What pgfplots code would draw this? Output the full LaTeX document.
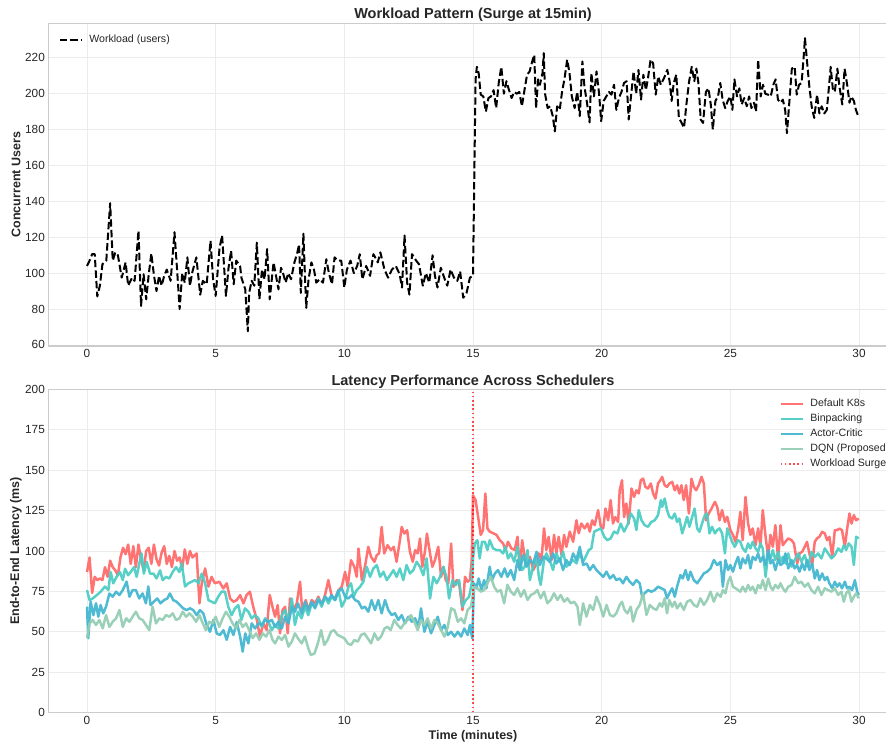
\documentclass[border=0pt]{standalone}
\usepackage{pgfplots}
\usepackage{pgfplotstable}
\pgfplotsset{compat=1.18}
\usepackage{fontspec}
\setmainfont{Liberation Sans}
\definecolor{ck}{HTML}{FF6B6B}
\definecolor{cb}{HTML}{4ECDC4}
\definecolor{ca}{HTML}{45B7D1}
\definecolor{cd}{HTML}{96CEB4}
\definecolor{txt}{HTML}{262626}

\pgfplotstableread[row sep=\\]{t y\\
0.00 104\\ 0.10 107\\ 0.20 110.6\\ 0.30 110.6\\ 0.40 87\\ 0.50 93\\ 0.60 105\\ 0.75 107\\ 0.90 139\\ 1.00 107\\
1.10 111.6\\ 1.20 110\\ 1.35 97.5\\ 1.50 106\\ 1.60 93\\ 1.75 97.5\\ 1.85 95.7\\ 2.00 123.7\\ 2.10 81.7\\ 2.20 99.4\\
2.30 85.4\\ 2.40 99.4\\ 2.50 111\\ 2.60 99\\ 2.70 90\\ 2.80 98.5\\ 2.90 93\\ 3.00 98.5\\ 3.10 102\\ 3.25 95.7\\
3.40 122.8\\ 3.50 102\\ 3.60 80\\ 3.70 100\\ 3.80 94.7\\ 3.90 108.8\\ 4.00 93\\ 4.10 101\\ 4.25 108.8\\ 4.40 88\\
4.50 95.7\\ 4.65 93.8\\ 4.80 118\\ 4.90 96.6\\ 5.00 87.3\\ 5.15 114\\ 5.25 121\\ 5.40 87.3\\ 5.50 103\\ 5.60 112.5\\
5.70 93.8\\ 5.80 107\\ 5.95 104\\ 6.00 97.5\\ 6.15 91\\ 6.25 67.6\\ 6.30 89\\ 6.40 95.7\\ 6.50 93\\ 6.60 117\\
6.70 85.4\\ 6.80 102\\ 6.90 96.6\\ 7.00 113.4\\ 7.10 85.4\\ 7.25 106\\ 7.44 91\\ 7.54 103\\ 7.63 99.4\\ 7.72 94.7\\
7.82 100\\ 7.93 96.6\\ 8.06 106\\ 8.16 110.6\\ 8.24 116\\ 8.31 89\\ 8.41 122\\ 8.46 102\\ 8.52 80.7\\ 8.61 96.6\\
8.72 106\\ 8.82 102\\ 8.91 94.7\\ 9.04 96.6\\ 9.17 94.7\\ 9.30 107.8\\ 9.40 100\\ 9.52 93.8\\ 9.62 108.8\\ 9.75 107\\
9.88 107\\ 10.00 92\\ 10.10 102\\ 10.24 107\\ 10.37 100\\ 10.50 104\\ 10.60 110.6\\ 10.70 96.6\\ 10.85 104\\ 11.00 98.5\\
11.13 110.6\\ 11.30 106\\ 11.40 111.6\\ 11.56 102\\ 11.70 97.5\\ 11.85 102\\ 12.00 104\\ 12.15 99.4\\ 12.24 92\\ 12.34 121\\
12.44 94.7\\ 12.53 88\\ 12.63 110.6\\ 12.79 107\\ 12.90 105\\ 13.05 93\\ 13.17 100\\ 13.30 94.7\\ 13.43 110\\ 13.52 98.5\\
13.62 92\\ 13.75 103\\ 13.88 97.5\\ 14.00 93\\ 14.13 102\\ 14.26 97.5\\ 14.39 95.7\\ 14.50 101\\ 14.62 86.3\\ 14.75 89\\
14.88 97.5\\ 15.00 98.5\\ 15.10 208\\ 15.15 215\\ 15.22 211.5\\ 15.30 199.5\\ 15.40 198.5\\ 15.50 190\\ 15.60 197.6\\ 15.70 198.5\\
15.80 202\\ 15.90 192\\ 16.00 206\\ 16.10 215\\ 16.20 200\\ 16.30 207\\ 16.40 202\\ 16.50 197.6\\ 16.60 201\\ 16.70 200\\
16.80 201\\ 16.90 193\\ 17.00 202\\ 17.10 210.6\\ 17.20 212.4\\ 17.30 218\\ 17.38 221.7\\ 17.45 192\\ 17.53 208\\ 17.60 205\\
17.70 211.5\\ 17.75 222.6\\ 17.80 200\\ 17.90 192\\ 18.00 193\\ 18.10 187.5\\ 18.18 179\\ 18.27 193\\ 18.37 191\\ 18.46 201\\
18.56 208.7\\ 18.66 219\\ 18.75 211.5\\ 18.84 198.5\\ 18.95 192\\ 19.05 201\\ 19.15 187.5\\ 19.25 218\\ 19.33 204\\ 19.43 195\\
19.53 184\\ 19.60 211.5\\ 19.70 198.5\\ 19.80 212.4\\ 19.90 200\\ 19.98 184.7\\ 20.08 196\\ 20.18 198.5\\ 20.28 201\\ 20.38 199.5\\
20.48 205\\ 20.57 191\\ 20.67 197.6\\ 20.77 201\\ 20.87 206\\ 20.97 207\\ 21.05 185.6\\ 21.15 200\\ 21.24 212.4\\ 21.34 200\\
21.43 213.3\\ 21.53 196.7\\ 21.62 210.6\\ 21.72 202\\ 21.80 208.7\\ 21.90 219\\ 22.00 217\\ 22.10 199.5\\ 22.20 209.6\\ 22.30 205\\
22.45 209.6\\ 22.55 213.3\\ 22.64 207\\ 22.72 196\\ 22.80 206\\ 22.90 210.6\\ 23.00 186.5\\ 23.10 184\\ 23.20 181\\ 23.30 195\\
23.40 207\\ 23.50 215\\ 23.60 207\\ 23.68 214\\ 23.76 206\\ 23.85 185.6\\ 23.94 183.7\\ 24.05 201\\ 24.15 203\\ 24.24 194\\
24.32 180\\ 24.42 196\\ 24.52 198.5\\ 24.61 206\\ 24.70 196.7\\ 24.80 192\\ 24.90 196\\ 25.00 198.5\\ 25.08 191\\ 25.16 208\\
25.26 198.5\\ 25.35 203\\ 25.44 194\\ 25.54 197.6\\ 25.64 193\\ 25.73 198.5\\ 25.82 192\\ 25.92 195\\ 26.00 190\\ 26.08 219\\
26.18 198.5\\ 26.27 205\\ 26.36 200\\ 26.46 199.5\\ 26.57 198.5\\ 26.67 205\\ 26.76 208\\ 26.85 196.7\\ 26.95 195\\ 27.04 196.7\\
27.13 191\\ 27.20 178\\ 27.30 196.7\\ 27.39 214\\ 27.50 215\\ 27.58 199.5\\ 27.67 205\\ 27.77 206\\ 27.85 220.7\\ 27.90 231\\
27.98 218\\ 28.07 204\\ 28.16 193\\ 28.26 186.5\\ 28.37 199.5\\ 28.46 189\\ 28.55 193\\ 28.65 189\\ 28.75 191\\ 28.84 205\\
28.90 215\\ 28.98 203\\ 29.06 201\\ 29.16 214\\ 29.24 204\\ 29.35 194\\ 29.44 214\\ 29.54 205\\ 29.63 195\\ 29.70 198.5\\
29.80 196\\ 29.88 191\\ 29.97 187.5\\
}\wl

\pgfplotstableread[row sep=\\]{t y\\
0.0 87\\ 0.1 96\\ 0.2 74\\ 0.3 84\\ 0.4 82\\ 0.5 83\\ 0.6 82\\ 0.7 90\\ 0.8 84\\ 0.9 94\\
1.0 90\\ 1.1 88\\ 1.2 85\\ 1.3 96\\ 1.4 102\\ 1.5 98\\ 1.6 104\\ 1.7 92\\ 1.8 103\\ 1.9 90\\
2.0 104\\ 2.1 95\\ 2.2 88\\ 2.3 100\\ 2.4 102\\ 2.5 92\\ 2.6 104\\ 2.7 95\\ 2.8 91\\ 2.9 99\\
3.0 103\\ 3.1 92\\ 3.2 97\\ 3.3 90\\ 3.4 100\\ 3.5 94\\ 3.6 96\\ 3.7 89\\ 3.8 101\\ 3.9 92\\
4.0 100\\ 4.1 96\\ 4.26 98.5\\ 4.37 67.6\\ 4.46 80\\ 4.59 89.2\\ 4.72 78\\ 4.84 84\\ 4.97 80\\ 5.14 81\\
5.3 76.8\\ 5.43 80\\ 5.56 70.6\\ 5.69 68.6\\ 5.82 69.6\\ 5.95 72.7\\ 6.08 67.6\\ 6.2 72.7\\ 6.33 74.8\\ 6.46 65.5\\
6.6 57.3\\ 6.72 47\\ 6.85 55.2\\ 6.98 51\\ 7.1 72.7\\ 7.24 63.4\\ 7.31 59.3\\ 7.41 66.5\\ 7.5 49\\ 7.6 63.4\\
7.7 65.5\\ 7.8 49\\ 7.89 70.6\\ 8.02 63.4\\ 8.15 67.5\\ 8.28 81\\ 8.37 61.4\\ 8.5 69.6\\ 8.6 63.4\\ 8.73 69.6\\
8.86 67.5\\ 8.99 71.7\\ 9.12 66.5\\ 9.25 72.7\\ 9.38 82\\ 9.51 71.7\\ 9.64 70.6\\ 9.77 75.8\\ 9.9 77.8\\ 10.03 87.1\\
10.13 77.8\\ 10.26 94.3\\ 10.39 90.2\\ 10.48 84\\ 10.55 101.5\\ 10.68 82\\ 10.8 90.2\\ 10.93 102.6\\ 11.04 96.4\\ 11.17 93.3\\
11.26 97.4\\ 11.35 98.5\\ 11.45 114.9\\ 11.55 98.5\\ 11.68 103.6\\ 11.81 100.5\\ 11.92 102.6\\ 12.03 93.3\\ 12.16 106.7\\ 12.23 114.9\\
12.33 110.8\\ 12.44 112.9\\ 12.55 99.5\\ 12.66 93.3\\ 12.75 100.5\\ 12.85 98.5\\ 12.94 107.7\\ 13.03 90.2\\ 13.14 100.5\\ 13.21 110.8\\
13.33 98.5\\ 13.42 90.2\\ 13.52 94.3\\ 13.65 102.6\\ 13.76 84\\ 13.85 90.2\\ 13.94 82\\ 14.04 80\\ 14.15 104.6\\ 14.24 77.8\\
14.37 82\\ 14.46 80\\ 14.59 63.4\\ 14.69 84\\ 14.79 81\\ 14.88 82\\ 14.95 94.3\\ 15.0 134.5\\ 15.1 131.5\\ 15.2 121\\
15.3 110\\ 15.39 113\\ 15.48 135.6\\ 15.56 114\\ 15.65 112\\ 15.78 111\\ 15.91 110\\ 16.04 106.7\\ 16.17 104.7\\ 16.26 100.6\\
16.36 105.7\\ 16.49 101.6\\ 16.62 100.6\\ 16.73 108.8\\ 16.82 88.2\\ 16.91 106.7\\ 16.99 98.5\\ 17.12 91.3\\ 17.21 96.4\\ 17.34 88.2\\
17.47 92.3\\ 17.56 98.5\\ 17.66 94.4\\ 17.76 114\\ 17.85 100.6\\ 17.94 108.8\\ 18.05 94.4\\ 18.15 110\\ 18.24 98.5\\ 18.33 108.8\\
18.44 97.5\\ 18.54 110\\ 18.63 102.6\\ 18.76 112\\ 18.89 105.7\\ 19.02 119\\ 19.11 111\\ 19.21 117\\ 19.34 114\\ 19.45 117\\
19.54 112\\ 19.63 119\\ 19.73 116\\ 19.86 125.3\\ 19.97 115\\ 20.06 114\\ 20.15 126.3\\ 20.25 119\\ 20.35 131.5\\ 20.44 117\\
20.53 121\\ 20.64 118\\ 20.7 137.6\\ 20.79 143.8\\ 20.87 121\\ 20.96 129.4\\ 21.05 117\\ 21.16 138.7\\ 21.26 133.5\\ 21.35 137.6\\
21.44 135.6\\ 21.52 143.8\\ 21.61 144.8\\ 21.7 139.7\\ 21.8 138.7\\ 21.91 141.8\\ 22.0 135.6\\ 22.09 132.5\\ 22.19 141.8\\ 22.28 143.8\\
22.35 145.9\\ 22.45 140.7\\ 22.54 139.7\\ 22.63 141.8\\ 22.74 142.8\\ 22.84 137.6\\ 22.93 140.7\\ 23.02 135.6\\ 23.1 140.7\\ 23.19 131.5\\
23.28 140.7\\ 23.39 123.2\\ 23.49 144.8\\ 23.58 139.7\\ 23.67 137.6\\ 23.77 140.7\\ 23.88 145.9\\ 23.97 141.8\\ 24.06 119\\ 24.16 123.2\\
24.27 126.3\\ 24.4 130.4\\ 24.49 127.3\\ 24.58 119\\ 24.68 125.3\\ 24.79 118\\ 24.88 121.2\\ 25.0 113\\ 25.1 110\\ 25.2 105.7\\
25.3 113\\ 25.39 124.2\\ 25.48 106.7\\ 25.59 133.5\\ 25.69 117\\ 25.78 110\\ 25.87 114\\ 25.98 103.6\\ 26.08 114\\ 26.17 102.6\\
26.26 125.3\\ 26.37 108.8\\ 26.47 96.4\\ 26.56 110\\ 26.65 102.6\\ 26.75 116\\ 26.86 94.4\\ 26.95 116\\ 27.04 103.6\\ 27.14 105.7\\
27.25 107.8\\ 27.38 106.7\\ 27.47 104.7\\ 27.6 92.3\\ 27.69 98.5\\ 27.79 99.5\\ 27.89 102.6\\ 27.98 105.7\\ 28.07 98.5\\ 28.18 91.3\\
28.28 105.7\\ 28.37 107.8\\ 28.46 108.8\\ 28.57 111.9\\ 28.67 110.9\\ 28.76 106.7\\ 28.85 108.8\\ 28.96 96.4\\ 29.06 112.9\\ 29.15 112.9\\
29.24 113.9\\ 29.34 112.9\\ 29.45 102.6\\ 29.54 113.9\\ 29.63 123.2\\ 29.71 117\\ 29.8 122.2\\ 29.89 119\\ 29.99 120.1\\
}\kes

\pgfplotstableread[row sep=\\]{t y\\
0.0 75.8\\ 0.1 69.6\\ 0.22 70.6\\ 0.38 72.7\\ 0.53 74.8\\ 0.7 78\\ 0.83 75.8\\ 0.92 87\\ 1.02 80\\ 1.15 84\\
1.28 87\\ 1.39 82\\ 1.48 89\\ 1.6 85\\ 1.74 88\\ 1.83 90\\ 1.93 84\\ 2.03 92\\ 2.12 98.5\\ 2.21 86\\
2.32 93.3\\ 2.45 86\\ 2.58 86\\ 2.7 83\\ 2.84 88\\ 2.94 82\\ 3.07 84\\ 3.2 83\\ 3.33 87\\ 3.46 90\\
3.59 87\\ 3.68 92.3\\ 3.81 78\\ 3.94 80\\ 4.07 81\\ 4.2 82\\ 4.33 80\\ 4.46 86\\ 4.59 80\\ 4.72 69.6\\
4.84 68.6\\ 4.97 67.6\\ 5.1 71.7\\ 5.23 74.8\\ 5.36 74.8\\ 5.49 65.5\\ 5.62 60.3\\ 5.75 64.5\\ 5.88 66.5\\ 6.0 57.3\\
6.14 64.5\\ 6.27 62.4\\ 6.4 58.3\\ 6.53 60.3\\ 6.66 58.3\\ 6.79 53.1\\ 6.92 58.3\\ 7.05 56.2\\ 7.18 51\\ 7.31 54.2\\
7.44 52\\ 7.57 60.3\\ 7.7 63.4\\ 7.83 56.2\\ 7.96 70.6\\ 8.08 54.2\\ 8.2 62.4\\ 8.34 58.3\\ 8.47 65.5\\ 8.6 60.3\\
8.73 67.5\\ 8.86 65.5\\ 8.99 70.6\\ 9.12 65.5\\ 9.25 71.7\\ 9.38 67.5\\ 9.51 71.7\\ 9.64 69.6\\ 9.77 75.8\\ 9.9 65.5\\
10.03 69.6\\ 10.16 77.8\\ 10.26 80\\ 10.36 71.7\\ 10.48 75.8\\ 10.61 77.8\\ 10.74 81\\ 10.87 90.2\\ 11.0 84\\ 11.13 89.2\\
11.26 91.3\\ 11.39 84\\ 11.52 87.1\\ 11.65 82\\ 11.78 85\\ 11.91 88.1\\ 12.03 84\\ 12.16 89.2\\ 12.29 82\\ 12.42 91.3\\
12.55 86.1\\ 12.68 88.1\\ 12.81 93.3\\ 12.94 90.2\\ 13.07 85\\ 13.2 95.4\\ 13.33 70.6\\ 13.46 84\\ 13.59 80\\ 13.72 84\\
13.85 90.2\\ 13.98 83\\ 14.07 70.6\\ 14.2 82\\ 14.33 78.9\\ 14.46 82\\ 14.59 65.5\\ 14.72 69.6\\ 14.85 71.7\\ 14.95 80\\
15.0 95.4\\ 15.07 104.7\\ 15.17 106.7\\ 15.26 95.4\\ 15.35 105.7\\ 15.46 105.7\\ 15.56 100.6\\ 15.65 106.7\\ 15.78 101.6\\ 15.91 100.6\\
16.04 100.6\\ 16.17 98.5\\ 16.26 102.6\\ 16.36 95.4\\ 16.47 98.5\\ 16.6 93.3\\ 16.73 102.6\\ 16.82 94.4\\ 16.91 88.2\\ 17.01 90.3\\
17.12 100.6\\ 17.21 82\\ 17.34 90.3\\ 17.47 96.4\\ 17.56 84\\ 17.63 79\\ 17.76 94.4\\ 17.85 98.5\\ 17.98 94.4\\ 18.11 88.2\\
18.24 98.5\\ 18.37 93.3\\ 18.5 99.5\\ 18.63 90.3\\ 18.76 92.3\\ 18.89 94.4\\ 19.02 92.3\\ 19.15 98.5\\ 19.28 93.3\\ 19.41 97.5\\
19.5 100.6\\ 19.6 101.6\\ 19.71 112\\ 19.84 113\\ 19.97 114\\ 20.1 108.8\\ 20.22 106.7\\ 20.35 107.8\\ 20.48 112\\ 20.61 110.9\\
20.74 117\\ 20.87 112\\ 21.0 116\\ 21.13 123.2\\ 21.26 120.1\\ 21.35 113\\ 21.44 125.3\\ 21.55 119\\ 21.67 116\\ 21.8 115\\
21.93 118\\ 22.06 119\\ 22.19 122.2\\ 22.3 131.5\\ 22.35 127.3\\ 22.45 132.5\\ 22.54 125.3\\ 22.63 121.2\\ 22.74 120.1\\ 22.84 123.2\\
22.93 118\\ 23.02 120.1\\ 23.13 110.9\\ 23.23 116\\ 23.32 121.2\\ 23.41 115\\ 23.52 121.2\\ 23.61 126.3\\ 23.71 114\\ 23.8 111.9\\
23.9 117\\ 24.01 122.2\\ 24.1 123.2\\ 24.19 110.9\\ 24.29 115\\ 24.4 110.9\\ 24.49 113\\ 24.58 114\\ 24.68 110.9\\ 24.79 98.5\\
24.88 114\\ 24.97 110\\ 25.07 105.7\\ 25.17 102.6\\ 25.3 106.7\\ 25.39 105.7\\ 25.48 101.6\\ 25.59 99.5\\ 25.69 104.7\\ 25.78 101.6\\
25.87 105.7\\ 25.98 101.6\\ 26.08 99.5\\ 26.17 104.7\\ 26.26 101.6\\ 26.37 84\\ 26.47 98.5\\ 26.56 95.4\\ 26.65 100.6\\ 26.75 94.4\\
26.86 99.5\\ 26.95 93.3\\ 27.04 96.4\\ 27.14 92.3\\ 27.25 98.5\\ 27.38 90.3\\ 27.5 94.4\\ 27.64 98.5\\ 27.76 93.3\\ 27.89 97.5\\
28.02 90.3\\ 28.15 99.5\\ 28.28 96.4\\ 28.41 98.5\\ 28.54 95.4\\ 28.67 101.6\\ 28.8 98.5\\ 28.93 95.4\\ 29.06 97.5\\ 29.19 101.6\\
29.32 99.5\\ 29.41 103.6\\ 29.5 100.6\\ 29.6 104.7\\ 29.71 102.6\\ 29.8 91.3\\ 29.89 108.8\\ 29.99 107.8\\
}\bin

\pgfplotstableread[row sep=\\]{t y\\
0.0 65.5\\ 0.05 46\\ 0.14 68.6\\ 0.25 60.3\\ 0.35 67.6\\ 0.44 59.3\\ 0.53 66.5\\ 0.63 61.4\\ 0.74 65.5\\ 0.87 73.7\\
1.0 71.7\\ 1.13 74.8\\ 1.26 72.7\\ 1.39 75.8\\ 1.54 81\\ 1.65 71.7\\ 1.77 75.8\\ 1.9 75.8\\ 2.03 70.6\\ 2.16 73.7\\
2.29 67.6\\ 2.38 78\\ 2.47 66.5\\ 2.6 68.6\\ 2.73 70.6\\ 2.86 67.6\\ 2.99 69.6\\ 3.12 70.6\\ 3.22 73.7\\ 3.35 69.6\\
3.48 68.6\\ 3.61 66.5\\ 3.74 64.5\\ 3.87 63.4\\ 4.0 64.5\\ 4.13 63.4\\ 4.26 60.3\\ 4.39 63.4\\ 4.52 61.4\\ 4.65 54.2\\
4.78 50\\ 4.91 57.3\\ 5.04 49\\ 5.17 48\\ 5.3 51\\ 5.43 45\\ 5.56 53\\ 5.69 48\\ 5.82 56\\ 5.95 47\\
6.05 37.7\\ 6.15 49\\ 6.27 42.8\\ 6.4 55.2\\ 6.53 52\\ 6.66 55.2\\ 6.79 54.2\\ 6.92 57.3\\ 7.05 56.2\\ 7.18 57.3\\
7.31 53.1\\ 7.44 56.2\\ 7.57 52\\ 7.7 59.3\\ 7.83 55.2\\ 7.96 65.5\\ 8.08 62.4\\ 8.2 67.5\\ 8.34 61.4\\ 8.47 68.6\\
8.6 63.4\\ 8.73 68.6\\ 8.86 64.5\\ 8.99 69.6\\ 9.12 67.5\\ 9.25 71.7\\ 9.38 69.6\\ 9.51 72.7\\ 9.64 69.6\\ 9.77 74.8\\
9.9 76.8\\ 10.03 71.7\\ 10.16 70.6\\ 10.29 72.7\\ 10.42 69.6\\ 10.55 68.6\\ 10.68 64.5\\ 10.8 65.5\\ 10.93 62.4\\ 11.06 69.6\\
11.19 63.4\\ 11.32 69.6\\ 11.45 61.4\\ 11.58 69.6\\ 11.71 63.4\\ 11.84 60.3\\ 11.97 61.4\\ 12.1 57.3\\ 12.23 60.3\\ 12.36 55.2\\
12.49 59.3\\ 12.62 56.2\\ 12.75 58.3\\ 12.88 53.1\\ 12.98 64.5\\ 13.11 50\\ 13.24 56.2\\ 13.37 49\\ 13.5 54.2\\ 13.63 59.3\\
13.76 51\\ 13.89 54.2\\ 14.02 48\\ 14.15 50\\ 14.28 47\\ 14.41 50\\ 14.54 47\\ 14.66 52\\ 14.79 48\\ 14.88 54.2\\
14.97 45.9\\ 15.04 80\\ 15.13 76.9\\ 15.22 83\\ 15.33 75.8\\ 15.43 82\\ 15.52 76.9\\ 15.65 90.3\\ 15.74 82\\ 15.85 86.1\\
15.97 88.2\\ 16.1 84\\ 16.23 89.2\\ 16.34 84\\ 16.47 88.2\\ 16.6 82\\ 16.73 94.4\\ 16.82 88.2\\ 16.95 97.5\\ 17.08 90.3\\
17.21 94.4\\ 17.34 92.3\\ 17.47 99.5\\ 17.6 91.3\\ 17.72 96.4\\ 17.85 95.4\\ 17.98 93.3\\ 18.11 98.5\\ 18.24 92.3\\ 18.37 95.4\\
18.5 88.2\\ 18.63 94.4\\ 18.76 91.3\\ 18.89 98.5\\ 19.02 94.4\\ 19.15 102.6\\ 19.28 91.3\\ 19.41 92.3\\ 19.54 88.2\\ 19.67 91.3\\
19.8 88.2\\ 19.93 86.1\\ 20.06 84\\ 20.19 87.2\\ 20.32 83\\ 20.45 85.1\\ 20.57 82\\ 20.7 83\\ 20.83 80\\ 20.96 84\\
21.09 81\\ 21.22 79\\ 21.35 82\\ 21.48 80\\ 21.57 71.7\\ 21.67 73.8\\ 21.8 75.8\\ 21.93 74.8\\ 22.06 75.8\\ 22.19 77.9\\
22.32 76.9\\ 22.45 75.8\\ 22.54 70.7\\ 22.63 73.8\\ 22.74 76.9\\ 22.84 71.7\\ 22.93 77.9\\ 23.06 85.1\\ 23.15 83\\ 23.26 88.2\\
23.36 82\\ 23.45 87.2\\ 23.58 82\\ 23.71 80\\ 23.84 83\\ 23.97 86.1\\ 24.1 87.2\\ 24.23 89.2\\ 24.36 94.4\\ 24.49 91.3\\
24.62 93.3\\ 24.71 77.9\\ 24.81 94.4\\ 24.91 88.2\\ 25.0 91.3\\ 25.1 87.2\\ 25.2 92.3\\ 25.3 96.4\\ 25.39 89.2\\ 25.48 95.4\\
25.59 92.3\\ 25.69 97.5\\ 25.78 89.2\\ 25.87 96.4\\ 25.98 94.4\\ 26.08 98.5\\ 26.17 93.3\\ 26.26 96.4\\ 26.37 91.3\\ 26.47 100.6\\
26.56 92.3\\ 26.65 94.4\\ 26.75 88.2\\ 26.86 94.4\\ 26.95 91.3\\ 27.04 92.3\\ 27.14 98.5\\ 27.25 89.2\\ 27.38 94.4\\ 27.5 89.2\\
27.59 91.3\\ 27.69 87.2\\ 27.79 92.3\\ 27.89 88.2\\ 27.98 94.4\\ 28.07 88.2\\ 28.18 92.3\\ 28.28 83\\ 28.37 88.2\\ 28.46 82\\
28.57 86.1\\ 28.67 82\\ 28.76 84\\ 28.85 80\\ 28.96 76.9\\ 29.06 81\\ 29.15 77.9\\ 29.24 80\\ 29.34 76.9\\ 29.45 81\\
29.54 76.9\\ 29.63 77.9\\ 29.73 75.8\\ 29.84 82\\ 29.93 74.8\\ 29.99 72.8\\
}\acr

\pgfplotstableread[row sep=\\]{t y\\
0.0 46\\ 0.1 55.2\\ 0.22 57.3\\ 0.35 54.2\\ 0.48 57.3\\ 0.61 52.1\\ 0.74 60.3\\ 0.87 53\\ 1.0 56.2\\ 1.13 58.3\\
1.26 63.4\\ 1.39 53\\ 1.52 58.3\\ 1.65 56.2\\ 1.77 59.3\\ 1.9 62.4\\ 2.03 58.3\\ 2.16 57.3\\ 2.29 54.2\\ 2.42 51\\
2.55 65.5\\ 2.68 55.2\\ 2.81 58.3\\ 2.94 57.3\\ 3.07 60.3\\ 3.2 59.3\\ 3.33 61.4\\ 3.46 57.3\\ 3.59 58.3\\ 3.72 62.4\\
3.85 59.3\\ 3.98 61.4\\ 4.11 59.3\\ 4.24 56.2\\ 4.37 60.3\\ 4.5 55.2\\ 4.62 51\\ 4.75 56.2\\ 4.88 55.2\\ 5.0 59.3\\
5.14 53\\ 5.27 58.3\\ 5.4 62.4\\ 5.53 59.3\\ 5.66 55.2\\ 5.79 52\\ 5.92 57.3\\ 6.05 53\\ 6.18 55.2\\ 6.3 51\\
6.44 46\\ 6.57 49\\ 6.7 45\\ 6.83 49\\ 6.96 47\\ 7.09 51\\ 7.21 45\\ 7.31 42.8\\ 7.44 47\\ 7.57 44.9\\
7.7 48\\ 7.83 40.8\\ 7.96 43.9\\ 8.08 49\\ 8.2 45.9\\ 8.34 42.8\\ 8.47 47\\ 8.6 39.7\\ 8.7 35.6\\ 8.84 36.6\\
8.97 42.8\\ 9.1 51\\ 9.22 41.8\\ 9.35 44.9\\ 9.48 50\\ 9.6 51\\ 9.74 48\\ 9.87 47\\ 10.0 45.9\\ 10.13 42.8\\
10.26 41.8\\ 10.39 44.9\\ 10.52 43.9\\ 10.65 48\\ 10.78 49\\ 10.91 45.9\\ 11.04 42.8\\ 11.17 49\\ 11.3 44.9\\ 11.43 47\\
11.56 52\\ 11.68 53.1\\ 11.8 51\\ 11.94 57.3\\ 12.07 54.2\\ 12.2 52\\ 12.33 55.2\\ 12.46 57.3\\ 12.59 60.3\\ 12.72 56.2\\
12.85 51\\ 12.98 57.3\\ 13.11 54.2\\ 13.24 58.3\\ 13.37 52\\ 13.5 57.3\\ 13.63 55.2\\ 13.76 51\\ 13.89 47\\ 14.02 53.1\\
14.15 64.5\\ 14.28 63.4\\ 14.41 56.2\\ 14.54 58.3\\ 14.66 55.2\\ 14.79 63.4\\ 14.92 65.5\\ 15.04 77.9\\ 15.17 76.9\\ 15.3 74.8\\
15.43 75.8\\ 15.56 80\\ 15.69 84\\ 15.82 77.9\\ 15.95 74.8\\ 16.08 75.8\\ 16.21 67.6\\ 16.34 79\\ 16.47 74.8\\ 16.6 72.8\\
16.73 76.9\\ 16.86 71.7\\ 16.99 75.8\\ 17.12 69.7\\ 17.25 72.8\\ 17.38 73.8\\ 17.5 75.8\\ 17.63 70.7\\ 17.76 74.8\\ 17.89 67.6\\
18.02 69.7\\ 18.15 73.8\\ 18.28 69.7\\ 18.41 72.8\\ 18.54 68.6\\ 18.67 70.7\\ 18.8 67.6\\ 18.93 68.6\\ 19.06 65.5\\ 19.15 54.2\\
19.28 67.6\\ 19.41 59.4\\ 19.54 66.6\\ 19.67 63.5\\ 19.8 71.7\\ 19.93 66.6\\ 20.06 59.4\\ 20.19 66.6\\ 20.32 60.4\\ 20.45 59.4\\
20.57 61.4\\ 20.7 66.6\\ 20.79 68.6\\ 20.89 63.5\\ 21.0 61.4\\ 21.13 65.5\\ 21.22 56.3\\ 21.35 63.5\\ 21.48 66.6\\ 21.61 73.8\\
21.74 60.4\\ 21.87 66.6\\ 22.0 64.5\\ 22.13 63.5\\ 22.26 67.6\\ 22.35 65.5\\ 22.45 70.7\\ 22.54 61.4\\ 22.63 69.7\\ 22.74 65.5\\
22.84 68.6\\ 22.93 64.5\\ 23.06 67.6\\ 23.19 63.5\\ 23.32 68.6\\ 23.45 69.7\\ 23.58 66.6\\ 23.71 65.5\\ 23.84 70.7\\ 23.97 66.6\\
24.1 69.7\\ 24.23 74.8\\ 24.36 68.6\\ 24.49 73.8\\ 24.62 71.7\\ 24.71 75.8\\ 24.81 73.8\\ 24.91 81\\ 25.0 84\\ 25.1 77.9\\
25.2 76.9\\ 25.3 75.8\\ 25.39 74.8\\ 25.48 77.9\\ 25.59 74.8\\ 25.69 79\\ 25.78 75.8\\ 25.87 77.9\\ 25.98 73.8\\ 26.08 79\\
26.17 76.9\\ 26.26 82\\ 26.37 75.8\\ 26.47 83\\ 26.56 77.9\\ 26.65 75.8\\ 26.75 79\\ 26.86 76.9\\ 26.95 80\\ 27.04 76.9\\
27.14 74.8\\ 27.25 77.9\\ 27.38 79\\ 27.5 84\\ 27.64 80\\ 27.76 81\\ 27.89 77.9\\ 28.02 80\\ 28.15 75.8\\ 28.28 73.8\\
28.41 77.9\\ 28.54 72.8\\ 28.67 76.9\\ 28.8 75.8\\ 28.93 74.8\\ 29.06 76.9\\ 29.19 72.8\\ 29.32 74.8\\ 29.41 68.6\\ 29.5 73.8\\
29.6 75.8\\ 29.71 68.6\\ 29.8 71.7\\ 29.89 73.8\\ 29.99 70.7\\
}\dqn

\pgfplotsset{
  myax/.style={
    width=849.2pt, height=323pt, scale only axis,
    xmin=-1.5, xmax=31.5, xtick={0,5,...,30},
    grid=major,
    grid style={color=gray!15, line width=0.8pt},
    axis line style={color=gray!40, line width=1.1pt},
    major tick length=0pt,
    /pgf/number format/assume math mode=true,
    tick label style={font=\fontsize{11.8}{14}\selectfont, color=txt},
    title style={font=\bfseries\fontsize{14.5}{17}\selectfont, color=txt},
    label style={font=\bfseries\fontsize{12.5}{15}\selectfont, color=txt},
    every axis y label/.append style={at={(axis description cs:-0.0382,0.5)}, anchor=center},
    legend cell align=left,
    legend image code/.code={\draw[##1] (0pt,0pt) -- (22pt,0pt);},
    legend style={draw=none, fill=none, font=\fontsize{10.6}{13}\selectfont, text=txt,
      nodes={inner sep=1.5pt, text height=8.5pt, text depth=3pt}, row sep=0.5pt,
      /tikz/every odd column/.append style={column sep=5pt}},
    line join=round,
  }
}

\begin{document}
\begin{tikzpicture}
\begin{axis}[myax,
  at={(0pt,366.5pt)}, anchor=south west, height=322.6pt,
  ymin=59.4, ymax=239.2, ytick={60,80,...,220},
  title={Workload Pattern (Surge at 15min)},
  title style={yshift=-8pt},
  ylabel={Concurrent Users},
  legend style={at={(axis description cs:0.0085,0.979)}, anchor=north west},
]
\addplot[black, line width=2pt, dash pattern=on 7.4pt off 3.2pt] table[x=t,y=y]{\wl};
\addlegendentry{Workload (users)}
\end{axis}

\begin{axis}[myax,
  at={(0pt,0pt)}, anchor=south west,
  ymin=0, ymax=200, ytick={0,25,...,200},
  title={Latency Performance Across Schedulers},
  title style={yshift=-9pt},
  xlabel={Time (minutes)},
  xlabel style={at={(axis description cs:0.5,-0.0721)}, anchor=center},
  ylabel={End-to-End Latency (ms)},
  legend style={at={(axis description cs:0.857,0.984)}, anchor=north west},
]
\addplot[ck, line width=2.5pt, opacity=0.95] table[x=t,y=y]{\kes};
\addlegendentry{Default K8s}
\addplot[cb, line width=2.5pt, opacity=0.95] table[x=t,y=y]{\bin};
\addlegendentry{Binpacking}
\addplot[ca, line width=2.5pt, opacity=0.95] table[x=t,y=y]{\acr};
\addlegendentry{Actor-Critic}
\addplot[cd, line width=2.5pt, opacity=0.95] table[x=t,y=y]{\dqn};
\addlegendentry{DQN (Proposed)}
\addplot[red, opacity=0.7, line width=1.6pt, dash pattern=on 1.6pt off 2.6pt] coordinates {(15,0) (15,200)};
\addlegendentry{Workload Surge}
\end{axis}

\pgfresetboundingbox
\useasboundingbox (-48.4pt,-34.3pt) rectangle (837.6pt,712.5pt);
\end{tikzpicture}
\end{document}
